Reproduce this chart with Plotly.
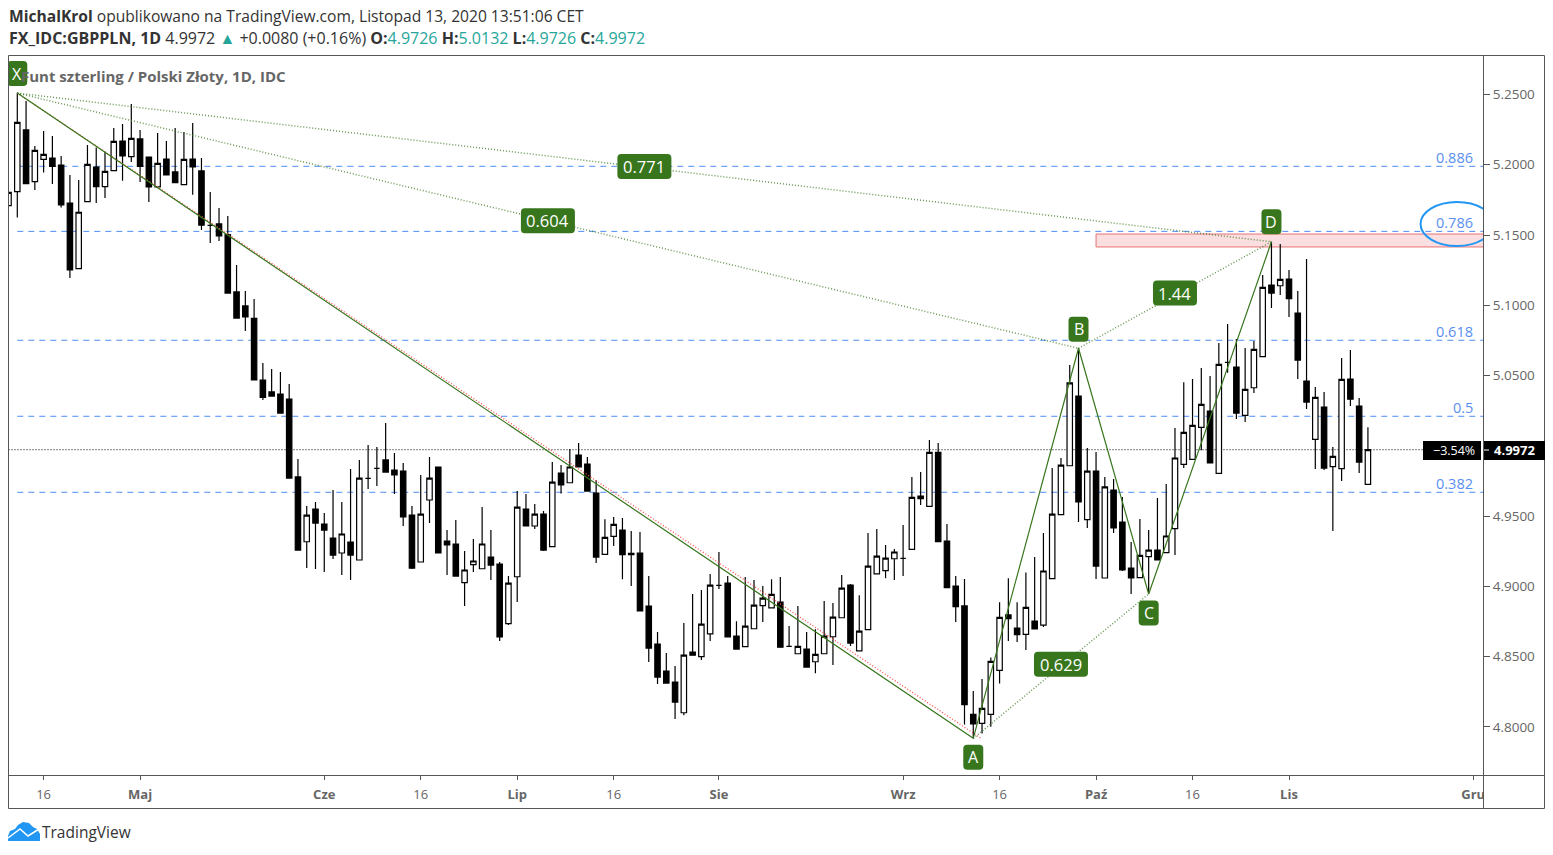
import plotly.graph_objects as go

W, H = 1553, 855
FONT = "Open Sans"

days = list(range(-1, 155))
opens = [5.1709,
 5.1809,5.2248,5.1880,5.2039,5.2048,5.1998,5.1728,5.1261,5.1738,5.1984,
 5.1844,5.1958,5.2169,5.2058,5.2184,5.2055,5.1842,5.2041,5.1949,5.1858,
 5.2041,5.1956,5.1569,5.1579,5.1503,5.1095,5.0995,5.0907,5.0468,5.0383,
 5.0368,5.0333,4.9778,4.9317,4.9550,4.9443,4.9343,4.9237,4.9315,4.9187,
 4.9768,4.9839,4.9899,4.9827,4.9820,4.9507,4.9173,4.9614,4.9849,4.9322,
 4.9301,4.9026,4.9154,4.9125,4.9208,4.9158,4.8734,4.9068,4.9550,4.9429,
 4.9514,4.9282,4.9806,4.9737,4.9934,4.9870,4.9664,4.9227,4.9355,4.9400,
 4.9234,4.9236,4.8859,4.8589,4.8397,4.8318,4.8100,4.8532,4.8499,4.8662,
 4.9006,4.9023,4.8646,4.8570,4.8698,4.8862,4.8847,4.8888,4.8572,4.8520,
 4.8553,4.8463,4.8520,4.8641,4.8776,4.9009,4.8541,4.8691,4.9089,4.9111,
 4.9196,4.9198,4.9263,4.9642,4.9569,4.9953,4.9322,4.9002,4.8860,4.8089,
 4.8025,4.8089,4.8402,4.8796,4.8703,4.8658,4.8753,4.8724,4.9054,4.9510,
 4.9858,5.0354,4.9474,4.9820,4.9059,4.9685,4.9457,4.9130,4.9061,4.9211,
 4.9258,4.9239,4.9410,4.9867,4.9903,5.0131,5.0247,4.9803,5.0593,5.0560,
 5.0216,5.0413,5.0634,5.1144,5.1139,5.1187,5.0945,5.0461,5.0045,5.0276,
 4.9851,4.9837,5.0475,5.0283,4.9726]
highs = [5.1804,
 5.2513,5.2454,5.2134,5.2240,5.2205,5.2063,5.1927,5.1892,5.2141,5.2122,
 5.2093,5.2262,5.2290,5.2433,5.2248,5.2055,5.2226,5.2169,5.2262,5.2233,
 5.2297,5.2048,5.1806,5.1692,5.1636,5.1287,5.1102,5.1045,5.0589,5.0546,
 5.0525,5.0439,4.9906,4.9571,4.9600,4.9521,4.9685,4.9600,4.9835,4.9899,
 5.0005,4.9991,5.0162,4.9948,4.9877,4.9571,4.9792,4.9920,4.9849,4.9400,
 4.9472,4.9251,4.9336,4.9564,4.9400,4.9173,4.9073,4.9678,4.9657,4.9585,
 4.9536,4.9884,4.9863,4.9977,5.0020,4.9920,4.9756,4.9478,4.9493,4.9486,
 4.9393,4.9386,4.9073,4.8674,4.8525,4.8432,4.8738,4.8945,4.8973,4.9087,
 4.9244,4.9073,4.8752,4.9066,4.9044,4.9002,4.9051,4.9066,4.8717,4.8859,
 4.8674,4.8695,4.8895,4.8881,4.9080,4.9016,4.8937,4.9379,4.9407,4.9293,
 4.9265,4.9436,4.9778,4.9813,5.0041,5.0020,4.9443,4.9073,4.9052,4.8255,
 4.8340,4.8494,4.8886,4.9057,4.8886,4.9099,4.9208,4.9379,4.9842,4.9913,
 5.0575,5.0696,4.9984,4.9956,4.9778,4.9763,4.9635,4.9315,4.9479,4.9400,
 4.9628,4.9728,5.0127,5.0453,5.0475,5.0553,5.0496,5.0731,5.0866,5.0760,
 5.0695,5.0745,5.1215,5.1452,5.1436,5.1251,5.1101,5.1329,5.0418,5.0382,
 4.9991,5.0624,5.0681,5.0340,5.0132]
lows = [5.1709,
 5.1624,5.1866,5.1821,5.1944,5.1863,5.1695,5.1194,5.1261,5.1738,5.1728,
 5.1764,5.1958,5.1887,5.2020,5.1877,5.1735,5.1842,5.1927,5.1873,5.1858,
 5.1787,5.1536,5.1443,5.1458,5.1087,5.0909,5.0817,5.0468,5.0326,5.0349,
 5.0233,4.9770,4.9258,4.9130,4.9123,4.9101,4.9194,4.9080,4.9044,4.9187,
 4.9692,4.9714,4.9813,4.9657,4.9429,4.9123,4.9173,4.9450,4.9237,4.9080,
 4.9073,4.8859,4.9101,4.9125,4.9044,4.8610,4.8724,4.8888,4.9429,4.9407,
 4.9251,4.9282,4.9661,4.9737,4.9849,4.9678,4.9165,4.9227,4.9286,4.9051,
 4.9002,4.8824,4.8461,4.8304,4.8311,4.8055,4.8083,4.8510,4.8475,4.8610,
 4.8980,4.8639,4.8553,4.8570,4.8698,4.8745,4.8847,4.8567,4.8572,4.8520,
 4.8425,4.8382,4.8520,4.8439,4.8776,4.8575,4.8541,4.8691,4.9089,4.9058,
 4.9044,4.9073,4.9263,4.9578,4.9569,4.9317,4.8990,4.8746,4.8017,4.7918,
 4.7953,4.8001,4.8309,4.8611,4.8604,4.8547,4.8696,4.8710,4.9054,4.9510,
 4.9858,4.9457,4.9415,4.9052,4.9059,4.9379,4.9109,4.8945,4.9061,4.8950,
 4.9187,4.9239,4.9223,4.9841,4.9903,4.9969,4.9879,4.9803,5.0520,5.0190,
 5.0169,5.0375,5.0634,5.0980,5.1073,5.0916,5.0475,5.0261,4.9834,4.9827,
 4.9393,4.9749,5.0283,4.9806,4.9726]
closes = [5.1804,
 5.2302,5.1866,5.2103,5.2074,5.1989,5.1714,5.1251,5.1662,5.2003,5.1844,
 5.1953,5.2167,5.2063,5.2188,5.1989,5.1842,5.2010,5.1927,5.1873,5.2039,
 5.1984,5.1571,5.1569,5.1493,5.1087,5.0909,5.0917,5.0468,5.0345,5.0354,
 5.0233,4.9770,4.9258,4.9507,4.9450,4.9400,4.9222,4.9372,4.9222,4.9770,
 4.9768,4.9839,4.9813,4.9792,4.9493,4.9130,4.9514,4.9770,4.9237,4.9294,
 4.9073,4.9116,4.9180,4.9301,4.9151,4.8639,4.9023,4.9564,4.9429,4.9514,
 4.9258,4.9742,4.9721,4.9849,4.9849,4.9678,4.9208,4.9348,4.9440,4.9225,
 4.9225,4.8824,4.8560,4.8354,4.8311,4.8176,4.8510,4.8510,4.8731,4.9009,
 4.9006,4.8639,4.8553,4.8717,4.8866,4.8916,4.8942,4.8567,4.8572,4.8572,
 4.8425,4.8515,4.8646,4.8781,4.8987,4.8596,4.8681,4.9144,4.9215,4.9201,
 4.9244,4.9198,4.9633,4.9624,4.9953,4.9317,4.8990,4.8855,4.8158,4.8020,
 4.8131,4.8466,4.8779,4.8770,4.8656,4.8850,4.8696,4.9109,4.9514,4.9863,
 5.0447,4.9600,4.9820,4.9144,4.9707,4.9415,4.9116,4.9059,4.9220,4.9258,
 4.9187,4.9358,4.9913,5.0095,5.0145,5.0294,4.9879,5.0579,5.0593,5.0233,
 5.0401,5.0686,5.1127,5.1087,5.1184,5.1047,5.0610,5.0311,5.0344,4.9841,
 4.9924,5.0472,5.0332,4.9884,4.9972]
assert len(days) == len(opens) == len(highs) == len(lows) == len(closes)

y_tick_values = [5.25, 5.20, 5.15, 5.10, 5.05, 4.95, 4.90, 4.85, 4.80]
x_tick_values = [3, 14, 35, 46, 57, 68, 80, 101, 112, 123, 134, 145, 166]
x_tick_labels = ["16", "<b>Maj</b>", "<b>Cze</b>", "16", "<b>Lip</b>", "16", "<b>Sie</b>",
                 "<b>Wrz</b>", "16", "<b>Paź</b>", "16", "<b>Lis</b>", "<b>Gru</b>"]

fib_levels = [5.1989, 5.1526, 5.0751, 5.0210, 4.9669]
fib_labels = ["0.886", "0.786", "0.618", "0.5", "0.382"]

pattern_names = ["X", "A", "B", "C", "D"]
pattern_days = [0, 109, 121, 129, 143]
pattern_prices = [5.2510, 4.7918, 5.0694, 4.8945, 5.1452]
ratio_labels = ["0.604", "0.771", "0.629", "1.44"]
ratio_pairs = [("X", "B"), ("X", "D"), ("A", "C"), ("B", "D")]

pz_days = [123, 172]
pz_prices = [5.1507, 5.1415]
circle_days = [160, 168.3]
circle_prices = [5.1735, 5.1422]
red_days = [0, 110]
red_prices = [5.2510, 4.7913]
change_label = "−3.54%"

GREEN = "#38761d"
BLUE = "#4d8cf5"
BORDER = "#555555"
TEAL = "#26a69a"


def px(x):
    return x / W


def py(y):
    return 1 - y / H


fig = go.Figure()
fig.add_trace(go.Candlestick(
    x=days, open=opens, high=highs, low=lows, close=closes,
    increasing=dict(line=dict(color="black", width=1.2), fillcolor="white"),
    decreasing=dict(line=dict(color="black", width=1.2), fillcolor="black"),
    whiskerwidth=0, hoverinfo="skip", showlegend=False,
))

point = {n: (d, p) for n, d, p in zip(pattern_names, pattern_days, pattern_prices)}

fig.add_trace(go.Scatter(x=red_days, y=red_prices, mode="lines", hoverinfo="skip", showlegend=False,
                         line=dict(color="#ff4d4d", width=1.3, dash="1px,2px")))
for a, b in ratio_pairs:
    fig.add_trace(go.Scatter(x=[point[a][0], point[b][0]], y=[point[a][1], point[b][1]],
                             mode="lines", hoverinfo="skip", showlegend=False, opacity=0.75,
                             line=dict(color=GREEN, width=1.5, dash="1px,2px")))
fig.add_trace(go.Scatter(x=pattern_days[:], y=pattern_prices[:], mode="lines", hoverinfo="skip",
                         showlegend=False, line=dict(color=GREEN, width=1.2)))

shapes = []
annotations = []

# Fibonacci levels and potential reversal zone
for level in fib_levels:
    shapes.append(dict(type="line", xref="x", yref="y", layer="below", x0=0, x1=172, y0=level, y1=level,
                       line=dict(color=BLUE, width=1, dash="6px,5px")))
shapes.append(dict(type="rect", xref="x", yref="y", layer="below", x0=pz_days[0], x1=pz_days[1],
                   y0=pz_prices[0], y1=pz_prices[1], fillcolor="#fbdfe0",
                   line=dict(color="#e57373", width=1)))
shapes.append(dict(type="line", xref="paper", yref="y", layer="below", x0=px(8.5), x1=px(1423),
                   y0=closes[-1], y1=closes[-1], line=dict(color="black", width=1, dash="1px,2px")))
shapes.append(dict(type="circle", xref="x", yref="y", layer="above", x0=circle_days[0], x1=circle_days[1],
                   y0=circle_prices[0], y1=circle_prices[1], line=dict(color="#2196f3", width=2)))


def rounded(cx, cy, w, h, r):
    x0, x1, y0, y1 = cx - w / 2, cx + w / 2, cy - h / 2, cy + h / 2
    return (f"M {x0+r} {y0} L {x1-r} {y0} Q {x1} {y0} {x1} {y0+r} L {x1} {y1-r} Q {x1} {y1} {x1-r} {y1} "
            f"L {x0+r} {y1} Q {x0} {y1} {x0} {y1-r} L {x0} {y0+r} Q {x0} {y0} {x0+r} {y0} Z")


def badge(day, price, text, w, h, offset, size):
    shapes.append(dict(type="path", xref="x", yref="y", xsizemode="pixel", ysizemode="pixel",
                       xanchor=day, yanchor=price, layer="above", fillcolor=GREEN,
                       line=dict(width=0), path=rounded(0, offset, w, h, 4)))
    annotations.append(dict(x=day, y=price, xref="x", yref="y", text=text, showarrow=False,
                            yshift=offset, xanchor="center", yanchor="middle",
                            font=dict(family=FONT, size=size, color="white")))


# Title sits beneath the X badge text
annotations.append(dict(x=px(19), y=py(76), xref="paper", yref="paper", text="<b>Funt szterling / Polski Złoty, 1D, IDC</b>",
                        showarrow=False, xanchor="left", yanchor="middle",
                        font=dict(family=FONT, size=15, color="#666666")))

ratio_shift = {"0.604": 0, "0.771": 1, "0.629": 2, "1.44": 2}
for a_b, label in zip(ratio_pairs, ratio_labels):
    a, b = point[a_b[0]], point[a_b[1]]
    badge((a[0] + b[0]) / 2, (a[1] + b[1]) / 2, label, 54 if len(label) > 4 else 44, 25, ratio_shift[label], 16.5)
offsets = {"X": 19.5, "A": -19, "B": 19, "C": -19, "D": 20}
for n, d, p in zip(pattern_names, pattern_days, pattern_prices):
    badge(d, p, n, 20, 25, offsets[n], 16)

for level, label in zip(fib_levels, fib_labels):
    annotations.append(dict(x=px(1475), y=level, xref="paper", yref="y", text=label, showarrow=False,
                            xanchor="right", yanchor="middle", yshift=9,
                            font=dict(family=FONT, size=14.5, color="#5b8ff0")))

# Frame pieces: cover clipped date label, then panel borders
shapes.append(dict(type="rect", xref="paper", yref="paper", layer="above", x0=px(1484), x1=px(1543.5),
                   y0=py(807.5), y1=py(776), fillcolor="white", line=dict(width=0)))
border = dict(color=BORDER, width=1)
shapes.append(dict(type="rect", xref="paper", yref="paper", layer="above", x0=px(8.5), x1=px(1544.5),
                   y0=py(808.5), y1=py(55.5), line=border))
shapes.append(dict(type="line", xref="paper", yref="paper", layer="above", x0=px(8.5), x1=px(1544.5),
                   y0=py(775.5), y1=py(775.5), line=border))
shapes.append(dict(type="line", xref="paper", yref="paper", layer="above", x0=px(1483.5), x1=px(1483.5),
                   y0=py(808.5), y1=py(55.5), line=border))

# Last-price tags
shapes.append(dict(type="rect", xref="paper", yref="paper", layer="above", x0=px(1423), x1=px(1481),
                   y0=py(460), y1=py(441), fillcolor="black", line=dict(width=0)))
shapes.append(dict(type="rect", xref="paper", yref="paper", layer="above", x0=px(1484), x1=px(1545),
                   y0=py(460), y1=py(441), fillcolor="black", line=dict(width=0)))
shapes.append(dict(type="line", xref="paper", yref="paper", layer="above", x0=px(1484), x1=px(1489),
                   y0=py(450), y1=py(450), line=dict(color="white", width=1)))
annotations.append(dict(x=px(1454), y=py(450), xref="paper", yref="paper", text=change_label, showarrow=False,
                        xanchor="center", yanchor="middle",
                        font=dict(family=FONT, size=12.5, color="white")))
annotations.append(dict(x=px(1514), y=py(450), xref="paper", yref="paper", text=f"<b>{closes[-1]:.4f}</b>",
                        xanchor="center", yanchor="middle",
                        showarrow=False, font=dict(family=FONT, size=13, color="white")))

# Header
annotations.append(dict(x=px(7), y=py(16), xref="paper", yref="paper", showarrow=False, xanchor="left", yanchor="middle",
                        text="<b>MichalKrol</b> opublikowano na TradingView.com, Listopad 13, 2020 13:51:06 CET",
                        font=dict(family=FONT, size=15.6, color="#333333")))
t = lambda v: f"<span style='color:{TEAL}'>{v}</span>"
annotations.append(dict(x=px(7), y=py(38), xref="paper", yref="paper", showarrow=False, xanchor="left", yanchor="middle",
                        text=f"<b>FX_IDC:GBPPLN, 1D</b> {closes[-1]:.4f} {t('▲')} +0.0080 (+0.16%) "
                             f"<b>O:</b>{t(f'{opens[-1]:.4f}')} <b>H:</b>{t(f'{highs[-1]:.4f}')} "
                             f"<b>L:</b>{t(f'{lows[-1]:.4f}')} <b>C:</b>{t(f'{closes[-1]:.4f}')}",
                        font=dict(family=FONT, size=16, color="#333333")))

# TradingView logo
logo = [(8, 841), (8, 836), (10, 831), (15, 829), (18, 825), (23, 822), (29, 823), (33, 827), (37, 829), (40, 834), (40, 841)]
shapes.append(dict(type="path", xref="paper", yref="paper", layer="above", fillcolor="#2196f3", line=dict(width=0),
                   path="M " + " L ".join(f"{px(a)} {py(b)}" for a, b in logo) + " Z"))
zig = [(8, 838), (20, 829), (28, 836), (39, 829)]
shapes.append(dict(type="path", xref="paper", yref="paper", layer="above", line=dict(color="white", width=1.5),
                   path="M " + " L ".join(f"{px(a)} {py(b)}" for a, b in zig)))
annotations.append(dict(x=px(40), y=py(832), xref="paper", yref="paper", text="TradingView", showarrow=False,
                        xanchor="left", yanchor="middle", font=dict(family=FONT, size=15.5, color="#333333")))

fig.update_layout(
    width=W + 2, height=H, autosize=False, margin=dict(l=0, r=0, t=0, b=0),
    paper_bgcolor="white", plot_bgcolor="white", showlegend=False, boxgap=0.12,
    font=dict(family=FONT, color="#666666", size=13),
    shapes=shapes, annotations=annotations,
    xaxis=dict(domain=[px(8.5), px(1483)], range=[-1.003, 167.12], showgrid=False, zeroline=False,
               rangeslider=dict(visible=False), tickmode="array", tickvals=x_tick_values, ticktext=x_tick_labels,
               ticks="outside", ticklen=4, tickcolor=BORDER, tickangle=0, tickfont=dict(size=13, color="#666666"),
               showline=False, ticklabelstandoff=3),
    yaxis=dict(domain=[py(775), py(56)], range=[4.7657, 5.2774], side="right", showgrid=False, zeroline=False,
               tickmode="array", tickvals=y_tick_values, ticktext=[f"{v:.4f}" for v in y_tick_values],
               ticks="outside", ticklen=6, tickcolor=BORDER, tickfont=dict(size=13.5, color="#666666"),
               showline=False),
)

fig.write_html("out.html", config=dict(displayModeBar=False),
               post_script="document.documentElement.style.overflow='hidden';document.body.style.margin='0';document.body.style.overflow='hidden';")
